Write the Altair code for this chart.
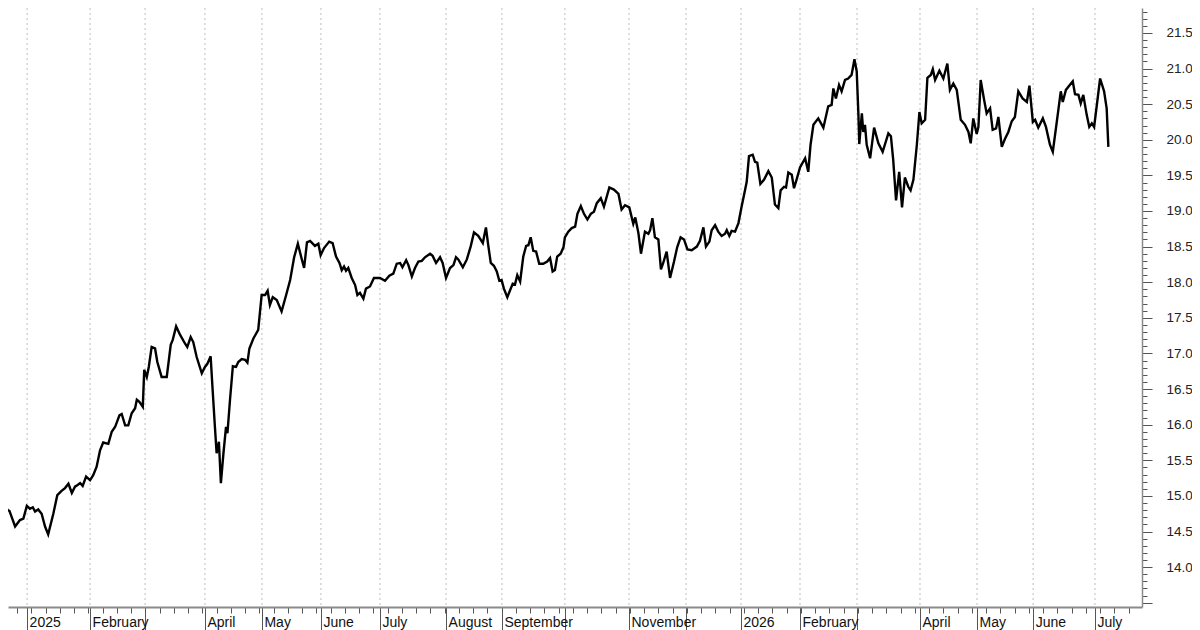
import json
import altair as alt
import pandas as pd

# trading-session index (x) and closing value (y)
session = [0.0, 1.2, 2.6, 3.3, 5.3, 7.0, 8.2, 9.4, 10.5, 11.5, 12.3, 13.4, 14.6, 15.8, 16.9, 18.7,
           20.1, 21.6, 22.8, 24.0, 25.2, 26.3, 27.1, 28.1, 29.0, 30.2, 31.6, 32.7, 33.9, 35.1, 36.2,
           38.0, 39.2, 40.4, 41.9, 42.7, 43.9, 45.0, 46.2, 47.4, 48.0, 48.9, 50.1, 50.6, 51.5, 52.2,
           53.2, 54.4, 55.2, 56.7, 58.5, 59.9, 60.6, 61.8, 63.2, 64.9, 65.7, 66.9, 67.8, 69.0, 70.8,
           71.9, 72.7, 73.9, 74.6, 75.4, 76.0, 76.8, 77.5, 78.4, 79.3, 79.8, 80.7, 81.7, 82.8, 83.6,
           84.8, 86.0, 86.8, 87.5, 88.9, 90.6, 91.8, 93.0, 93.9, 94.7, 95.7, 97.1, 98.8, 100.4, 101.8,
           103.2, 104.5, 105.9, 106.7, 107.7, 108.8, 110.5, 111.7, 112.5, 113.7, 115.5, 116.7, 117.9,
           119.1, 119.9, 120.7, 121.4, 122.2, 123.4, 124.6, 125.4, 126.3, 127.5, 128.4, 129.8, 131.2,
           133.3, 135.1, 136.6, 138.0, 139.2, 140.4, 141.2, 142.5, 143.3, 144.5, 145.6, 146.8, 148.0,
           149.1, 150.9, 151.8, 153.0, 154.4, 155.3, 156.5, 157.9, 159.1, 160.0, 160.8, 162.4, 163.8,
           165.2, 166.3, 167.8, 169.4, 170.5, 171.3, 172.2, 173.3, 174.3, 175.2, 176.0, 176.8, 178.0,
           178.9, 179.9, 180.7, 181.5, 182.5, 183.6, 184.6, 185.4, 186.2, 187.1, 188.1, 189.2, 190.6,
           192.0, 193.0, 193.9, 194.7, 195.5, 196.7, 197.7, 198.2, 199.4, 200.6, 201.8, 202.6, 203.8,
           204.9, 206.1, 207.3, 208.4, 209.4, 210.8, 211.9, 213.8, 215.4, 217.0, 218.1, 219.3, 220.8,
           222.2, 222.9, 224.0, 224.9, 226.3, 227.5, 228.1, 228.9, 229.8, 231.0, 231.9, 232.7, 233.9,
           235.1, 236.5, 237.6, 238.8, 240.0, 241.2, 242.7, 244.5, 245.6, 246.8, 247.7, 248.9, 249.7,
           250.9, 252.0, 253.2, 254.4, 255.0, 255.9, 256.7, 257.9, 259.1, 260.2, 261.4, 262.0, 262.8,
           264.1, 264.9, 265.7, 266.8, 268.1, 269.6, 270.8, 271.9, 273.1, 273.9, 275.1, 275.8, 276.6,
           277.8, 278.6, 279.5, 280.7, 282.5, 283.6, 284.4, 285.4, 287.1, 288.9, 290.6, 291.8, 292.4,
           293.3, 294.4, 295.3, 296.5, 297.6, 298.8, 299.8, 300.6, 301.2, 301.5, 302.4, 302.9, 303.5,
           304.1, 305.3, 306.7, 308.2, 309.7, 311.7, 312.6, 313.4, 314.4, 315.5, 316.5, 317.5, 318.7,
           319.5, 320.5, 321.7, 322.6, 323.4, 324.6, 325.4, 326.6, 327.3, 328.1, 329.6, 331.0, 332.4,
           333.3, 334.5, 335.7, 337.1, 338.6, 339.8, 340.6, 341.5, 342.7, 343.3, 344.1, 345.3, 346.2,
           347.4, 348.3, 349.5, 350.3, 351.5, 352.6, 353.8, 355.0, 356.1, 357.3, 358.8, 360.3, 361.2,
           362.4, 363.2, 364.3, 365.9, 367.0, 368.4, 369.4, 370.8, 372.2, 372.9, 374.0, 376.4, 377.2,
           378.4, 379.2, 380.1, 381.3, 382.2, 383.1, 383.9, 386.0, 387.4, 388.3, 388.9]

price = [15.04, 14.99, 14.80, 14.79, 14.57, 14.66, 14.68, 14.86, 14.82, 14.84, 14.78, 14.81, 14.75, 14.57, 14.46, 14.75,
         15.01, 15.07, 15.11, 15.17, 15.04, 15.13, 15.15, 15.18, 15.14, 15.27, 15.22, 15.29, 15.41, 15.64, 15.75,
         15.73, 15.90, 15.97, 16.13, 16.15, 15.99, 15.99, 16.16, 16.23, 16.35, 16.32, 16.25, 16.77, 16.67, 16.81,
         17.09, 17.07, 16.88, 16.67, 16.67, 17.12, 17.19, 17.38, 17.26, 17.14, 17.09, 17.23, 17.16, 16.95, 16.72,
         16.81, 16.85, 16.96, 16.49, 15.97, 15.60, 15.76, 15.18, 15.60, 15.97, 15.88, 16.35, 16.82, 16.81, 16.88,
         16.92, 16.91, 16.87, 17.07, 17.21, 17.33, 17.82, 17.82, 17.88, 17.68, 17.79, 17.75, 17.59, 17.82, 18.03,
         18.35, 18.54, 18.32, 18.20, 18.56, 18.58, 18.51, 18.54, 18.38, 18.48, 18.57, 18.55, 18.36,
         18.27, 18.17, 18.22, 18.16, 18.20, 18.06, 17.96, 17.82, 17.85, 17.77, 17.91, 17.94, 18.06,
         18.06, 18.02, 18.09, 18.12, 18.26, 18.27, 18.21, 18.31, 18.24, 18.08, 18.20, 18.29, 18.30,
         18.35, 18.40, 18.37, 18.27, 18.35, 18.27, 18.06, 18.20, 18.24, 18.35, 18.32, 18.21, 18.32,
         18.51, 18.70, 18.65, 18.55, 18.77, 18.52, 18.27, 18.23, 18.15, 18.02, 18.03, 17.91, 17.79,
         17.88, 17.98, 17.97, 18.10, 18.01, 18.36, 18.51, 18.52, 18.63, 18.44, 18.43, 18.26, 18.26,
         18.29, 18.34, 18.15, 18.17, 18.36, 18.40, 18.49, 18.63, 18.71, 18.76, 18.78, 18.96, 19.07,
         18.96, 18.88, 18.96, 18.99, 19.11, 19.18, 19.06, 19.33, 19.30, 19.24, 19.02, 19.08, 19.05,
         18.82, 18.91, 18.69, 18.40, 18.71, 18.68, 18.73, 18.90, 18.63, 18.60, 18.18, 18.27, 18.43,
         18.06, 18.29, 18.49, 18.63, 18.60, 18.46, 18.45, 18.50, 18.58, 18.77, 18.50, 18.57, 18.73,
         18.80, 18.71, 18.65, 18.68, 18.73, 18.65, 18.72, 18.71, 18.83, 19.06, 19.29, 19.41, 19.77,
         19.79, 19.69, 19.68, 19.38, 19.44, 19.56, 19.47, 19.09, 19.04, 19.29, 19.34, 19.33, 19.54,
         19.51, 19.32, 19.44, 19.61, 19.74, 19.55, 19.93, 20.21, 20.30, 20.17, 20.47, 20.49, 20.72,
         20.58, 20.77, 20.68, 20.84, 20.86, 20.91, 21.13, 20.96, 20.35, 19.94, 20.37, 20.11, 20.21,
         19.93, 19.74, 20.17, 19.95, 19.83, 20.09, 20.05, 19.72, 19.15, 19.55, 19.05, 19.47, 19.34,
         19.29, 19.44, 19.93, 20.39, 20.23, 20.28, 20.87, 20.91, 20.99, 20.84, 20.97, 20.86, 21.07,
         20.70, 20.79, 20.70, 20.28, 20.21, 20.11, 19.95, 20.30, 20.08, 20.18, 20.84, 20.56, 20.37,
         20.44, 20.14, 20.16, 20.32, 19.90, 20.01, 20.11, 20.26, 20.32, 20.68, 20.58, 20.53, 20.76,
         20.25, 20.28, 20.17, 20.30, 20.18, 19.93, 19.83, 20.25, 20.68, 20.53, 20.70, 20.82, 20.64,
         20.63, 20.51, 20.63, 20.35, 20.18, 20.23, 20.18, 20.86, 20.68, 20.44, 19.90]

# month boundaries (session index) and their labels
month_pos = [9.5, 31.6, 50.9, 71.9, 91.9, 112.6, 133.3, 156.5, 176.1, 198.2, 220.7, 240.7,
             260.0, 280.7, 300.7, 322.8, 342.8, 362.5, 384.2]
month_lab = ["2025", "February", "", "April", "May", "June", "July", "August", "September", "",
             "November", "", "2026", "February", "", "April", "May", "June", "July"]
week_pos = [1 + 5 * k for k in range(80)]
y_ticks = [round(13.5 + 0.1 * i, 1) for i in range(84)]

x_domain = [2.8, 400.7]
y_domain = [13.44, 21.85]

df = pd.DataFrame({"s": session, "v": price})
grid_df = pd.DataFrame({"s": month_pos})

mp = json.dumps(month_pos)
ml = json.dumps(month_lab)

x_axis = alt.Axis(
    orient="bottom",
    title=None,
    values=sorted(month_pos + week_pos),
    grid=False,
    domainColor="#8a8a8a",
    domainWidth=2,
    tickColor="#555555",
    tickWidth=1,
    tickSize={"condition": {"test": f"indexof({mp}, datum.value) >= 0", "value": 23}, "value": 6},
    labelExpr=f"{ml}[indexof({mp}, datum.value)] || ''",
    labelAlign="left",
    labelBaseline="top",
    labelOffset=2,
    labelPadding=-15,
    labelOverlap=False,
    labelFont="Liberation Sans",
    labelFontSize=14,
    labelColor="#111111",
    labelBound=False,
    labelFlush=False,
)

major = "abs(datum.value * 2 - round(datum.value * 2)) < 0.01"
y_axis = alt.Axis(
    orient="right",
    title=None,
    values=y_ticks,
    grid=False,
    domainColor="#8a8a8a",
    domainWidth=1.5,
    tickColor="#555555",
    tickWidth=1,
    tickSize={"condition": {"test": major, "value": 10}, "value": 5},
    labelExpr=f"({major}) && datum.value > 13.9 ? format(datum.value, '.1f') : ''",
    labelAlign="left",
    labelPadding=14,
    labelOverlap=False,
    labelFont="Liberation Sans",
    labelFontSize=13.5,
    labelColor="#222222",
    labelBound=False,
)

xs = alt.Scale(domain=x_domain, nice=False, zero=False)
ys = alt.Scale(domain=y_domain, nice=False, zero=False)

grid = alt.Chart(grid_df).mark_rule(color="#bdbdbd", strokeWidth=1, strokeDash=[2, 3]).encode(
    x=alt.X("s:Q", scale=xs, axis=x_axis)
)

line = alt.Chart(df).mark_line(color="black", strokeWidth=2.4, clip=True).encode(
    x=alt.X("s:Q", scale=xs, axis=x_axis),
    y=alt.Y("v:Q", scale=ys, axis=y_axis),
)

chart = alt.layer(grid, line).properties(
    width=1134, height=599,
    autosize=alt.AutoSizeParams(type="none"),
    padding={"left": 0, "top": 0, "right": 50, "bottom": 23},
    background="white",
).configure_view(strokeWidth=0)

chart.save("out.html", embed_options={"renderer": "svg", "actions": False})
